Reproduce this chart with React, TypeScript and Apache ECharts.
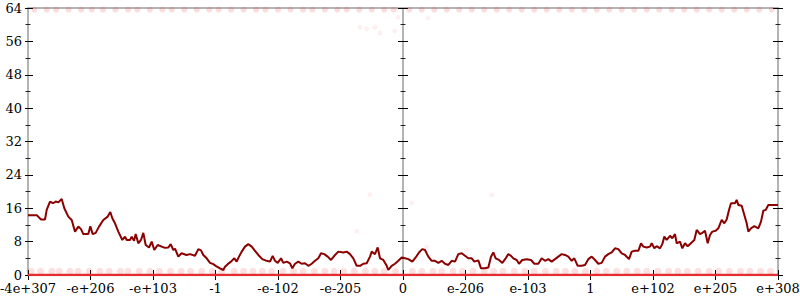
import React, { useEffect, useRef } from "react";
import * as echarts from "echarts";

// X tick labels (one per unit from -6 to 6)
const xTickLabels = [
  "-4e+307", "-e+206", "-e+103", "-1", "-e-102", "-e-205", "0",
  "e-206", "e-103", "1", "e+102", "e+205", "e+308",
];

// Main walk line
const lineX = [
  -6.0, -5.856, -5.792, -5.728, -5.701, -5.648, -5.6, -5.557, -5.515, -5.461,
  -5.419, -5.355, -5.301, -5.248, -5.195, -5.152, -5.115, -5.035, -5.003, -4.965,
  -4.917, -4.864, -4.795, -4.725, -4.683, -4.651, -4.608, -4.555, -4.491, -4.448,
  -4.421, -4.368, -4.341, -4.304, -4.277, -4.235, -4.192, -4.155, -4.117, -4.064,
  -4.021, -3.979, -3.925, -3.861, -3.808, -3.755, -3.717, -3.675, -3.648, -3.595,
  -3.544, -3.464, -3.408, -3.328, -3.275, -3.232, -3.195, -3.141, -3.088, -3.035,
  -2.997, -2.928, -2.875, -2.848, -2.805, -2.752, -2.699, -2.661, -2.624, -2.581,
  -2.528, -2.475, -2.421, -2.368, -2.315, -2.251, -2.181, -2.128, -2.085, -2.048,
  -2.005, -1.952, -1.915, -1.861, -1.808, -1.771, -1.728, -1.675, -1.621, -1.568,
  -1.515, -1.461, -1.408, -1.355, -1.312, -1.259, -1.205, -1.152, -1.099, -1.035,
  -0.955, -0.901, -0.848, -0.795, -0.741, -0.688, -0.635, -0.581, -0.528, -0.501,
  -0.448, -0.405, -0.368, -0.315, -0.261, -0.235, -0.181, -0.128, -0.075, -0.021,
  0.032, 0.085, 0.149, 0.203, 0.256, 0.309, 0.352, 0.405, 0.459, 0.512,
  0.565, 0.619, 0.672, 0.725, 0.779, 0.832, 0.885, 0.939, 0.992, 1.045,
  1.099, 1.141, 1.205, 1.248, 1.312, 1.365, 1.408, 1.445, 1.483, 1.536,
  1.589, 1.643, 1.685, 1.728, 1.765, 1.819, 1.856, 1.909, 1.979, 2.048,
  2.101, 2.165, 2.219, 2.272, 2.325, 2.379, 2.432, 2.485, 2.539, 2.592,
  2.645, 2.699, 2.741, 2.795, 2.859, 2.912, 2.965, 3.019, 3.072, 3.125,
  3.179, 3.232, 3.285, 3.339, 3.392, 3.445, 3.499, 3.552, 3.616, 3.659,
  3.712, 3.765, 3.808, 3.845, 3.899, 3.952, 3.979, 4.021, 4.059, 4.112,
  4.149, 4.181, 4.219, 4.272, 4.309, 4.352, 4.379, 4.432, 4.469, 4.512,
  4.555, 4.619, 4.661, 4.699, 4.752, 4.789, 4.832, 4.875, 4.912, 4.949,
  5.003, 5.045, 5.099, 5.141, 5.179, 5.216, 5.248, 5.312, 5.339, 5.365,
  5.419, 5.461, 5.499, 5.525, 5.568, 5.621, 5.685, 5.728, 5.765, 5.803,
  5.845, 6.0,
];
const lineY = [
  14.3, 14.3, 13.3, 13.3, 15.6, 17.6, 17.2, 17.6, 17.4, 18.2,
  16, 14, 13.2, 10.4, 11.6, 11, 9.8, 9.8, 11.7, 9.8,
  10.1, 11.6, 13.2, 14, 15.1, 13.6, 12.4, 10.4, 8.4, 9.2,
  8.4, 8.4, 9.2, 8.2, 9.8, 7.6, 8.4, 10.1, 7.2, 6.6,
  8, 6, 7.2, 6.8, 6.5, 6.6, 7.4, 6, 6.3, 4.4,
  5.2, 4.8, 5, 4.6, 6.2, 5.9, 4.8, 4, 2.9, 2.6,
  2.2, 1.6, 1.2, 2, 2.6, 3.2, 4, 3.2, 4.4, 5.6,
  6.8, 7.4, 6.8, 5.8, 4.8, 3.8, 3.4, 3.2, 4.6, 3.4,
  2.9, 4, 2.9, 3.2, 2.8, 1.6, 2.7, 3.2, 2.7, 2.8,
  2.2, 2.7, 3.4, 4, 5.2, 5, 4.4, 3.6, 4.6, 5.6,
  5.4, 5.6, 5, 4, 2.2, 2.2, 2.7, 2.8, 4.4, 5.6,
  5, 6.6, 4, 3.6, 2.2, 1.2, 2.2, 2.7, 3.4, 4.2,
  4, 3.8, 3.2, 4.2, 5.4, 6.2, 6, 4.4, 3.4, 3.4,
  2.9, 3.4, 2.7, 2.4, 3.4, 3.2, 5, 5.2, 4.6, 4,
  4, 3.2, 3.5, 1.6, 1.6, 1.8, 4.4, 5.4, 4, 3.6,
  2.9, 4, 5, 4.6, 4, 3.6, 2.7, 3.6, 3.8, 3.6,
  2.7, 2.7, 4, 3.4, 3.8, 3.2, 3.8, 4.4, 5, 4.8,
  4.4, 3.4, 4, 2.2, 2.2, 2.4, 3.8, 4.4, 3.6, 2.7,
  2.9, 4.4, 5, 5.4, 6.4, 6.2, 5.2, 4.8, 3.8, 5.6,
  5.8, 5.8, 7.6, 6.8, 6.6, 6.8, 7.6, 6.4, 6.9, 6.4,
  7.4, 9.2, 8.4, 9.4, 8.8, 9.8, 7.6, 8, 6.4, 7.6,
  6.9, 7.8, 8.4, 10.8, 9.8, 10.1, 10.6, 7.6, 9.6, 10.4,
  10.6, 11.2, 13.2, 12.4, 13.3, 15.6, 17.2, 17.2, 18, 16.8,
  16.6, 14.4, 12.4, 10.4, 11.2, 11.7, 11.2, 12.8, 15.4, 15.6,
  16.8, 16.8,
];

// Dense points at zero (drawn as a solid run)
const floorX = [-6, 6];
const floorY = [0, 0];

// Faint points just above zero
const lowBandX = [
  -5.95, -5.8, -5.62, -5.5, -5.33, -5.2, -5.02, -4.85, -4.7, -4.52, -4.4, -4.22,
  -4.05, -3.9, -3.72, -3.55, -3.4, -3.22, -3.05, -2.9, -2.7, -2.55, -2.4, -2.25,
  -2.1, -1.92, -1.75, -1.6, -1.42, -1.25, -1.1, -0.95, -0.78, -0.6, -0.45, -0.3,
  -0.12, 0.15, 0.3, 0.48, 0.62, 0.8, 0.95, 1.12, 1.3, 1.45, 1.6, 1.78, 1.95, 2.1,
  2.28, 2.45, 2.6, 2.75, 2.92, 3.1, 3.25, 3.42, 3.58, 3.75, 3.9, 4.08, 4.25, 4.4,
  4.55, 4.72, 4.9, 5.05, 5.22, 5.4, 5.55, 5.72, 5.88,
];
const lowBandY = 0.9;

// Faint points at the top
const topBandX = [
  -5.9, -5.7, -5.55, -5.35, -5.15, -4.98, -4.8, -4.6, -4.4, -4.25, -4.05, -3.85,
  -3.7, -3.5, -3.3, -3.1, -2.95, -2.75, -2.55, -2.35, -2.2, -2.0, -1.8, -1.6,
  -1.45, -1.25, -1.05, -0.9, -0.7, -0.5, -0.3, -0.15, 0.1, 0.3, 0.5, 0.7, 0.9,
  1.1, 1.3, 1.5, 1.7, 1.9, 2.1, 2.3, 2.5, 2.7, 2.9, 3.1, 3.3, 3.5, 3.7, 3.9, 4.1,
  4.3, 4.5, 4.7, 4.9, 5.1, 5.3, 5.5, 5.7, 5.9,
];
const topBandY = 63.6;

// Isolated faint points
const strayX = [-0.08, -0.69, -0.58, -0.45, -0.37, -0.13, 0.4, -0.53, 0.14, -0.74, 0.38, 1.02, 1.42];
const strayY = [61.8, 59.4, 59.0, 59.4, 58.0, 58.5, 61.6, 19.2, 17.3, 10.5, 6.7, 6.0, 19.2];

const FONT = "DejaVu Serif";
const GREY = "#b4b4b4";

export default function App() {
  const ref = useRef<HTMLDivElement>(null);

  useEffect(() => {
    if (!ref.current) return;
    const chart = echarts.init(ref.current, undefined, { renderer: "svg" });

    const baseX = {
      type: "value" as const,
      min: -6,
      max: 6,
      interval: 1,
      splitLine: { show: false },
    };
    const baseY = {
      type: "value" as const,
      min: 0,
      max: 64,
      interval: 8,
      splitLine: { show: false },
      minorSplitLine: { show: false },
    };
    const tick = (inside: boolean, len: number) => ({
      show: true,
      inside,
      length: len,
      lineStyle: { color: "#000", width: 1 },
    });
    const minor = (len: number) => ({
      show: true,
      splitNumber: 2,
      length: len,
      lineStyle: { color: "#222", width: 1 },
    });
    const yAx = (opts: any) => ({ ...baseY, ...opts });

    const option: any = {
      animation: false,
      backgroundColor: "#fff",
      grid: {
        left: 28,
        right: 22,
        top: 8,
        bottom: 25,
        containLabel: false,
        outerBoundsMode: "none",
      },
      xAxis: [
        {
          ...baseX,
          position: "bottom",
          axisLine: { show: true, onZero: false, lineStyle: { color: GREY, width: 2 } },
          axisTick: tick(false, 5),
          axisLabel: {
            show: true,
            color: "#000",
            fontFamily: FONT,
            fontSize: 13,
            lineHeight: 13,
            margin: 7,
            showMinLabel: true,
            showMaxLabel: true,
            formatter: (v: number) => xTickLabels[Math.round(v + 6)] ?? "",
          },
        },
        {
          ...baseX,
          position: "bottom",
          axisLine: { show: false, onZero: false },
          axisTick: tick(true, 5),
          axisLabel: { show: false },
        },
        {
          ...baseX,
          position: "top",
          axisLine: { show: true, onZero: false, lineStyle: { color: GREY, width: 2 } },
          axisTick: { show: false },
          axisLabel: { show: false },
        },
      ],
      yAxis: [
        yAx({
          position: "left",
          axisLine: { show: true, onZero: false, lineStyle: { color: GREY, width: 2 } },
          axisTick: tick(false, 3),
          minorTick: minor(2.5),
          axisLabel: {
            show: true,
            color: "#000",
            fontFamily: FONT,
            fontSize: 13,
            lineHeight: 12,
            margin: 6,
          },
        }),
        yAx({
          position: "left",
          axisLine: { show: false, onZero: false },
          axisTick: tick(true, 5),
          minorTick: minor(2.5),
          axisLabel: { show: false },
        }),
        yAx({
          position: "right",
          axisLine: { show: true, onZero: false, lineStyle: { color: GREY, width: 2 } },
          axisTick: tick(false, 5),
          minorTick: minor(2.5),
          axisLabel: { show: false },
        }),
        yAx({
          position: "right",
          axisLine: { show: false, onZero: false },
          axisTick: tick(true, 5),
          minorTick: minor(2.5),
          axisLabel: { show: false },
        }),
        yAx({
          position: "left",
          axisLine: { show: true, onZero: true, onZeroAxisIndex: 0, lineStyle: { color: GREY, width: 2 } },
          axisTick: tick(false, 5),
          minorTick: minor(2.5),
          axisLabel: { show: false },
        }),
        yAx({
          position: "left",
          axisLine: { show: true, onZero: true, onZeroAxisIndex: 1, lineStyle: { color: GREY, width: 2 } },
          axisTick: tick(true, 5),
          minorTick: minor(2.5),
          axisLabel: { show: false },
        }),
      ],
      series: [
        {
          name: "top",
          type: "scatter",
          symbol: "circle",
          symbolSize: 6,
          itemStyle: { color: "rgba(240,60,60,0.22)" },
          data: topBandX.map((x) => [x, topBandY]),
          z: 3,
        },
        {
          name: "low",
          type: "scatter",
          symbol: "circle",
          symbolSize: 7,
          itemStyle: { color: "rgba(240,60,60,0.2)" },
          data: lowBandX.map((x) => [x, lowBandY]),
          z: 3,
        },
        {
          name: "stray",
          type: "scatter",
          symbol: "circle",
          symbolSize: 5,
          itemStyle: { color: "rgba(240,60,60,0.1)" },
          data: strayX.map((x, i) => [x, strayY[i]]),
          z: 3,
        },
        {
          name: "floor",
          type: "line",
          symbol: "none",
          lineStyle: { color: "rgb(228,45,50)", width: 2.5 },
          data: floorX.map((x, i) => [x, floorY[i]]),
          z: 4,
        },
        {
          name: "walk",
          type: "line",
          symbol: "none",
          lineStyle: { color: "#8b0000", width: 2 },
          data: lineX.map((x, i) => [x, lineY[i]]),
          z: 5,
        },
      ],
    };

    chart.setOption(option);
    return () => chart.dispose();
  }, []);

  return (
    <div
      ref={ref}
      style={{ width: 800, height: 300, position: "absolute", left: 0, top: 0 }}
    />
  );
}
